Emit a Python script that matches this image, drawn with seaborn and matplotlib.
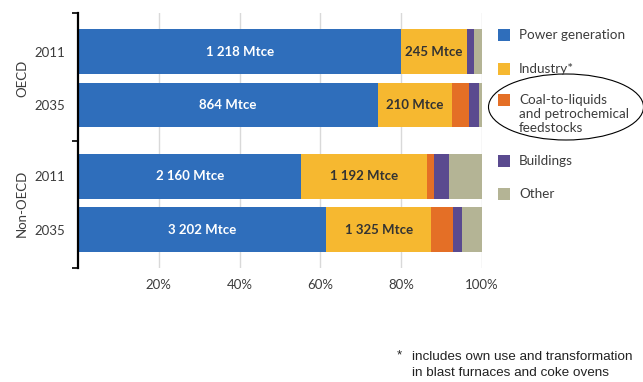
import matplotlib
matplotlib.use("Agg")
import matplotlib.pyplot as plt
import matplotlib.transforms as mtransforms
from matplotlib.patches import Rectangle, Ellipse
import numpy as np
import pandas as pd
import seaborn as sns

# Shares of coal demand by sector (%), OECD / Non-OECD, 2011 and 2035
rows = ["OECD 2011", "OECD 2035", "Non-OECD 2011", "Non-OECD 2035"]
year_labels = ["2011", "2035", "2011", "2035"]
groups = ["OECD", "Non-OECD"]
sectors = ["Power generation", "Industry*", "Coal-to-liquids\nand petrochemical\nfeedstocks",
           "Buildings", "Other"]
power = [80.0, 74.3, 55.3, 61.5]
industry = [16.3, 18.3, 31.0, 25.9]
ctl = [0.0, 4.3, 1.8, 5.5]
buildings = [1.7, 2.3, 3.8, 2.1]
other = [2.0, 0.8, 8.1, 5.0]
power_labels = ["1 218 Mtce", "864 Mtce", "2 160 Mtce", "3 202 Mtce"]
industry_labels = ["245 Mtce", "210 Mtce", "1 192 Mtce", "1 325 Mtce"]
footnote = ["includes own use and transformation", "in blast furnaces and coke ovens"]

colors = ["#2f6ebb", "#f6b830", "#e46f26", "#5a4a8f", "#b4b495"]
text_col = "#3c3c3c"

# bar positions: two bars per group, larger gap between groups
ypos = np.array([0.0, 1.0, 2.336, 3.336])

plt.rcParams["font.family"] = ["Lato", "DejaVu Sans"]

fig = plt.figure(figsize=(6.43, 3.82), dpi=100)
ax = fig.add_axes([78 / 643, 1 - 268 / 382, 404 / 643, 255 / 382])

shares = np.array([power, industry, ctl, buildings, other])
cum = np.cumsum(shares, axis=0)

# draw stacked layers from the outermost cumulative total inward
for i in range(len(sectors) - 1, -1, -1):
    df = pd.DataFrame({"value": cum[i], "pos": ypos})
    sns.barplot(data=df, x="value", y="pos", orient="y", native_scale=True,
                color=colors[i], saturation=1, width=0.84, errorbar=None,
                linewidth=0, ax=ax, zorder=2)

ax.set_xlim(0, 100)
ax.set_ylim(4.047, -0.72)
ax.set_xlabel("")
ax.set_ylabel("")

# vertical grid and percent ticks
ax.set_xticks([20, 40, 60, 80, 100])
ax.set_xticklabels(["20%", "40%", "60%", "80%", "100%"], fontsize=9.5, color=text_col)
ax.xaxis.grid(True, color="#d9d9d9", linewidth=1, zorder=0)
ax.set_axisbelow(True)
ax.tick_params(axis="x", length=0, pad=8)

# year labels at bar centres, short ticks at group boundaries
ax.set_yticks(ypos)
ax.set_yticklabels(year_labels, fontsize=9.5, color=text_col)
ax.tick_params(axis="y", which="major", length=0, pad=9)
ax.set_yticks([-0.72, 1.668, 4.047], minor=True)
ax.tick_params(axis="y", which="minor", length=4, width=1.2, color="black", direction="out")

for s in ["top", "right", "bottom"]:
    ax.spines[s].set_visible(False)
ax.spines["left"].set_color("black")
ax.spines["left"].set_linewidth(1.6)

# group labels
blend = mtransforms.blended_transform_factory(ax.transAxes, ax.transData)
ax.text(-0.138, 0.5 * (ypos[0] + ypos[1]), groups[0], transform=blend, rotation=90,
        ha="center", va="center", fontsize=9.5, color=text_col)
ax.text(-0.138, 0.5 * (ypos[2] + ypos[3]), groups[1], transform=blend, rotation=90,
        ha="center", va="center", fontsize=9.5, color=text_col)

# segment value labels
for k in range(4):
    ax.text(power[k] / 2, ypos[k], power_labels[k], ha="center", va="center",
            fontsize=9.5, fontweight="bold", color="white", zorder=5)
    ax.text(power[k] + industry[k] / 2, ypos[k], industry_labels[k], ha="center",
            va="center", fontsize=9.5, fontweight="bold", color="#333333", zorder=5)

# legend
leg_y = [35, 69, 100, 161, 194]
for c, lab, y in zip(colors, sectors, leg_y):
    fig.patches.append(Rectangle((498 / 643, 1 - (y + 6) / 382), 12 / 643, 12 / 382,
                                 transform=fig.transFigure, facecolor=c, edgecolor="none"))
    for j, ln in enumerate(lab.split("\n")):
        fig.text(519 / 643, 1 - (y + 14 * j) / 382, ln, ha="left", va="center",
                 fontsize=9.7, color=text_col)

fig.patches.append(Ellipse((566 / 643, 1 - 107 / 382), 155 / 643, 66 / 382,
                           transform=fig.transFigure, facecolor="none",
                           edgecolor="black", linewidth=0.8))

# footnote
fig.text(397 / 643, 1 - 355 / 382, "*", ha="left", va="center", fontsize=9.7,
         family="Liberation Sans", color="#222222")
for j, ln in enumerate(footnote):
    fig.text(412 / 643, 1 - (357 + 16 * j) / 382, ln, ha="left", va="center",
             fontsize=9.7, family="Liberation Sans", color="#222222")

fig.savefig("out.png", dpi=100)
